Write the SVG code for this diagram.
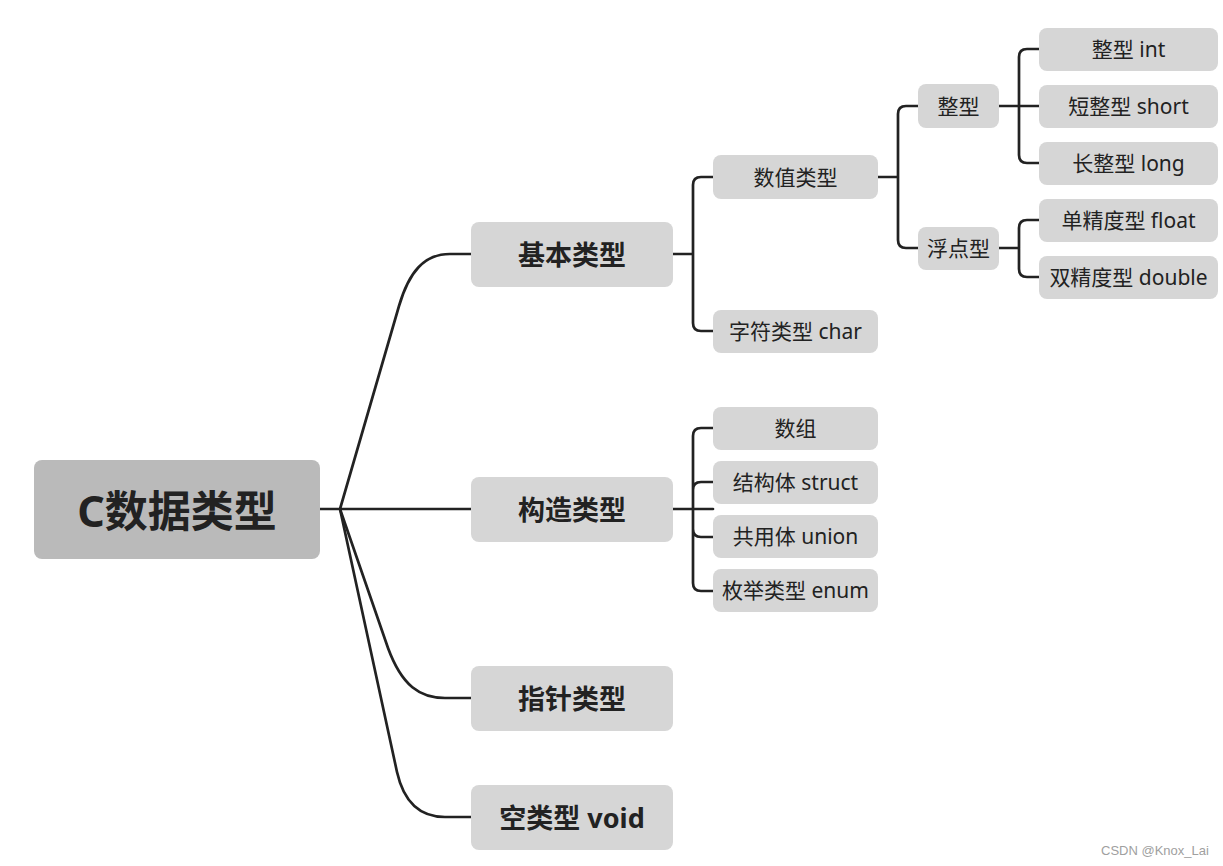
<svg xmlns="http://www.w3.org/2000/svg" width="1223" height="866" viewBox="0 0 1223 866">
<style>
.n{fill:#d6d6d6}
.r{fill:#bababa}
.t{font-family:"Noto Sans","Noto Sans CJK SC",sans-serif;fill:#222;text-anchor:middle;dominant-baseline:central}
.t1{font-size:27px;font-weight:bold}
.t2{font-size:21px}
.t0{font-size:43px;font-weight:bold}
.c{fill:none;stroke:#222;stroke-width:2.7;stroke-linecap:round;stroke-linejoin:round}
.wm{font-family:"Liberation Sans",sans-serif;font-size:13px;fill:#a0a0a0}
</style>
<rect width="1223" height="866" fill="#fff"/>
<g id="connectors">
<path class="c" d="M320,509 L471,509"/>
<path class="c" d="M340,509 L399,306 C409,272 424,254 450,254 L471,254"/>
<path class="c" d="M340,509 L388,648 C402,686 420,698 445,698 L471,698"/>
<path class="c" d="M340,509 L397,772 C404,803 420,817 445,817 L471,817"/>
<path class="c" d="M673,254 L693,254 M713,177 L701,177 Q693,177 693,185 L693,323 Q693,331 701,331 L713,331"/>
<path class="c" d="M673,509 L713,509 M713,428 L701,428 Q693,428 693,436 L693,583 Q693,591 701,591 L713,591 M693,490 Q693,482 701,482 L713,482 M693,529 Q693,537 701,537 L713,537"/>
<path class="c" d="M878,177 L898,177 M918,106 L906,106 Q898,106 898,114 L898,240 Q898,248 906,248 L918,248"/>
<path class="c" d="M999,106 L1039,106 M1039,49 L1027,49 Q1019,49 1019,57 L1019,155 Q1019,163 1027,163 L1039,163"/>
<path class="c" d="M999,248 L1019,248 M1039,220 L1027,220 Q1019,220 1019,228 L1019,269 Q1019,277 1027,277 L1039,277"/>
</g>
<g id="root"><rect class="r" x="34" y="460" width="286" height="99" rx="8"/><text class="t t0" x="177" y="510">C数据类型</text></g>
<g id="n-basic"><rect class="n" x="471" y="222" width="202" height="65" rx="8"/><text class="t t1" x="572" y="254">基本类型</text></g>
<g id="n-struct"><rect class="n" x="471" y="477" width="202" height="65" rx="8"/><text class="t t1" x="572" y="509">构造类型</text></g>
<g id="n-pointer"><rect class="n" x="471" y="666" width="202" height="65" rx="8"/><text class="t t1" x="572" y="698">指针类型</text></g>
<g id="n-void"><rect class="n" x="471" y="785" width="202" height="65" rx="8"/><text class="t t1" x="572" y="817">空类型 void</text></g>
<g id="n-numeric"><rect class="n" x="713" y="155" width="165" height="44" rx="8"/><text class="t t2" x="795.5" y="177">数值类型</text></g>
<g id="n-char"><rect class="n" x="713" y="310" width="165" height="43" rx="8"/><text class="t t2" x="795.5" y="331">字符类型 char</text></g>
<g id="n-array"><rect class="n" x="713" y="407" width="165" height="43" rx="8"/><text class="t t2" x="795.5" y="428">数组</text></g>
<g id="n-structure"><rect class="n" x="713" y="461" width="165" height="43" rx="8"/><text class="t t2" x="795.5" y="482">结构体 struct</text></g>
<g id="n-union"><rect class="n" x="713" y="515" width="165" height="43" rx="8"/><text class="t t2" x="795.5" y="536">共用体 union</text></g>
<g id="n-enum"><rect class="n" x="713" y="569" width="165" height="43" rx="8"/><text class="t t2" x="795.5" y="590">枚举类型 enum</text></g>
<g id="n-integer"><rect class="n" x="918" y="84" width="81" height="44" rx="8"/><text class="t t2" x="958.5" y="106">整型</text></g>
<g id="n-float"><rect class="n" x="918" y="227" width="81" height="43" rx="8"/><text class="t t2" x="958.5" y="248">浮点型</text></g>
<g id="n-int"><rect class="n" x="1039" y="28" width="179" height="43" rx="8"/><text class="t t2" x="1128.5" y="49">整型 int</text></g>
<g id="n-short"><rect class="n" x="1039" y="85" width="179" height="43" rx="8"/><text class="t t2" x="1128.5" y="106">短整型 short</text></g>
<g id="n-long"><rect class="n" x="1039" y="142" width="179" height="43" rx="8"/><text class="t t2" x="1128.5" y="163">长整型 long</text></g>
<g id="n-single"><rect class="n" x="1039" y="199" width="179" height="43" rx="8"/><text class="t t2" x="1128.5" y="220">单精度型 float</text></g>
<g id="n-double"><rect class="n" x="1039" y="256" width="179" height="43" rx="8"/><text class="t t2" x="1128.5" y="277">双精度型 double</text></g>
<text class="wm" x="1101" y="855">CSDN @Knox_Lai</text>
</svg>
